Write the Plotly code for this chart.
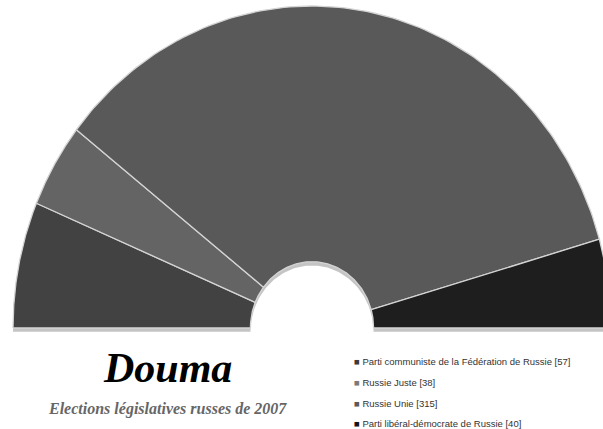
import numpy as np
import plotly.graph_objects as go

parties = ["Parti communiste de la Fédération de Russie", "Russie Juste",
           "Russie Unie", "Parti libéral-démocrate de Russie"]
seats = [57, 38, 315, 40]
colors = ["#424242", "#646464", "#595959", "#1e1e1e"]
legend_colors = ["#3a3a3a", "#7a7a7a", "#5a5a5a", "#151515"]
title = "Douma"
subtitle = "Elections législatives russes de 2007"

R_OUT, R_IN = 1.0, 0.206
total = sum(seats)


def sector(a0, a1, dy=0.0):
    t = np.linspace(a0, a1, 120)
    xo = R_OUT * np.cos(t)
    yo = R_OUT * np.sin(t) + dy
    xi = R_IN * np.cos(t[::-1])
    yi = R_IN * np.sin(t[::-1]) + dy
    x = np.concatenate([xo, xi, xo[:1]])
    y = np.concatenate([yo, yi, yo[:1]])
    return x, y


fig = go.Figure()

# soft shadow
sx, sy = sector(0, np.pi, dy=-0.012)
fig.add_trace(go.Scatter(x=sx, y=sy, fill="toself", fillcolor="#c4c4c4",
                         line=dict(width=0), hoverinfo="skip", showlegend=False))

cum = 0
for name, s, c in zip(parties, seats, colors):
    a0 = np.pi * (1 - cum / total)
    a1 = np.pi * (1 - (cum + s) / total)
    cum += s
    x, y = sector(a0, a1)
    fig.add_trace(go.Scatter(x=x, y=y, fill="toself", fillcolor=c,
                             line=dict(color="#d4d4d4", width=1.3),
                             name=name, hoverinfo="name", showlegend=False))

# Title block
fig.add_annotation(x=167, y=368, xref="x2", yref="y2", text="<b><i>%s</i></b>" % title,
                   showarrow=False, font=dict(family="Liberation Serif", size=42, color="#000"),
                   xanchor="center", yanchor="middle")
fig.add_annotation(x=167, y=409, xref="x2", yref="y2", text="<b><i>%s</i></b>" % subtitle,
                   showarrow=False, font=dict(family="Liberation Serif", size=16, color="#666"),
                   xanchor="center", yanchor="middle")

# legend
ys = [361, 382, 403, 423]
for name, s, c, yy in zip(parties, seats, legend_colors, ys):
    fig.add_annotation(x=352, y=yy, xref="x2", yref="y2",
                       text='<span style="color:%s">■</span> %s [%d]' % (c, name, s),
                       showarrow=False, font=dict(family="Liberation Sans Narrow, Liberation Sans", size=9.5, color="#333"),
                       xanchor="left", yanchor="middle")

fig.update_layout(
    width=603, height=429, margin=dict(l=0, r=0, t=0, b=0),
    paper_bgcolor="white", plot_bgcolor="white",
    xaxis=dict(range=[-312 / 299, (603 - 312) / 299], visible=False, fixedrange=True),
    yaxis=dict(range=[-(429 - 328) / 322, 328 / 322], visible=False, fixedrange=True),
    xaxis2=dict(range=[0, 603], visible=False, overlaying="x", fixedrange=True),
    yaxis2=dict(range=[429, 0], visible=False, overlaying="y", fixedrange=True),
    showlegend=False,
)
fig.add_trace(go.Scatter(x=[None], y=[None], xaxis="x2", yaxis="y2", showlegend=False))

fig.write_html("out.html")
